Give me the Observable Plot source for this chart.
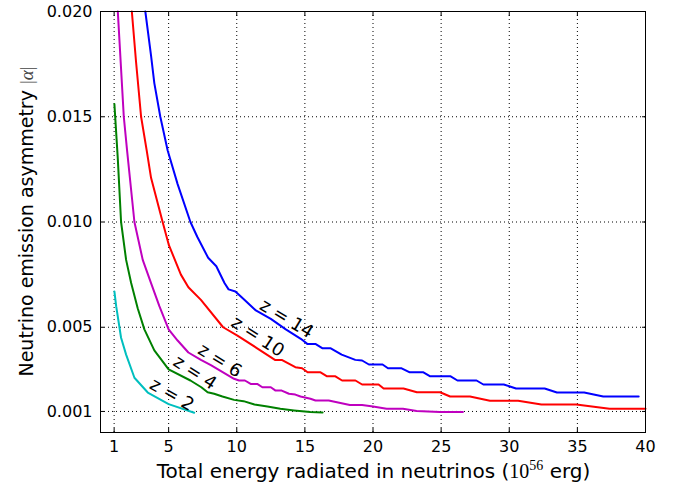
<!DOCTYPE html>
<html><head><meta charset="utf-8">
<script src="https://cdn.jsdelivr.net/npm/d3@7"></script>
<script src="https://cdn.jsdelivr.net/npm/@observablehq/plot@0.6"></script>
<style>
body{margin:0;background:#fff;}
#chart svg{display:block;}
</style></head><body><div id="chart"></div>
<script>
const xTicks = [1, 5, 10, 15, 20, 25, 30, 35, 40];
const yTicks = [0.001, 0.005, 0.010, 0.015, 0.020];
const yTickLabels = ["0.001", "0.005", "0.010", "0.015", "0.020"];
const seriesNames = ["z = 2", "z = 4", "z = 6", "z = 10", "z = 14"];

const z2 = [[1.02,0.0067],[1.15,0.0060],[1.51,0.0045],[1.88,0.0037],[2.49,0.0026],[3.47,0.0019],[5.0,0.00135],[6.88,0.00094]];
const z4 = [[1.02,0.0156],[1.27,0.0130],[1.51,0.0100],[1.88,0.0082],[2.25,0.0071],[2.73,0.0059],[3.22,0.0049],[3.95,0.0039],[5.0,0.0030],[6.6,0.00247],[7.4,0.00215],[7.86,0.00191],[8.34,0.00184],[8.95,0.00171],[9.8,0.00155],[10.5,0.00149],[11.3,0.00133],[12.25,0.00123],[13.2,0.00113],[14.2,0.00105],[15.4,0.00097],[16.3,0.00095]];
const z6 = [[1.27,0.0200],[1.71,0.0150],[1.95,0.0134],[2.49,0.0100],[3.1,0.0082],[3.71,0.0071],[4.32,0.0060],[5.0,0.0049],[5.66,0.00437],[6.45,0.0038],[7.37,0.00345],[8.1,0.0032],[9.8,0.00255],[10.17,0.00247],[10.6,0.00247],[11.02,0.00231],[11.5,0.00231],[11.88,0.00215],[12.5,0.00215],[12.85,0.00199],[13.3,0.00199],[13.83,0.00184],[14.3,0.00180],[14.68,0.00171],[15.41,0.0016],[15.78,0.00152],[16.75,0.00152],[18.3,0.00131],[19.2,0.00131],[20.0,0.00123],[21.0,0.00113],[22.2,0.00113],[23.2,0.00102],[24.9,0.00097],[26.6,0.00097]];
const z10 = [[2.30,0.0200],[2.61,0.0176],[2.98,0.0150],[3.39,0.0134],[3.71,0.0121],[4.56,0.0100],[5.02,0.0089],[5.9,0.0075],[6.45,0.0069],[7.37,0.0063],[9.0,0.0050],[10.05,0.0046],[11.5,0.0040],[12.8,0.00345],[13.3,0.00345],[14.3,0.0031],[14.8,0.00305],[15.2,0.00286],[16.15,0.00286],[16.63,0.00267],[17.24,0.00267],[17.73,0.00247],[18.71,0.00247],[19.2,0.00228],[20.41,0.00228],[20.78,0.00209],[22.24,0.00209],[23.22,0.00191],[24.92,0.00191],[25.66,0.00171],[27.12,0.00171],[28.58,0.00151],[30.65,0.00151],[32.36,0.00133],[34.92,0.00133],[37.36,0.00113],[40,0.00113]];
const z14 = [[3.29,0.0200],[3.71,0.0179],[3.95,0.0166],[4.39,0.0150],[4.93,0.0134],[5.66,0.0118],[6.6,0.0100],[7.1,0.0093],[7.9,0.0083],[8.5,0.0079],[9.1,0.0071],[9.4,0.0068],[9.9,0.0067],[10.4,0.0064],[11.4,0.0058],[12.5,0.0054],[13.6,0.0049],[14.7,0.00445],[15.2,0.0042],[15.8,0.0042],[16.3,0.0040],[16.9,0.0040],[17.7,0.0037],[18.7,0.00345],[19.2,0.00342],[19.7,0.00323],[20.7,0.00323],[21.1,0.00305],[22.1,0.00305],[22.7,0.00286],[23.7,0.00286],[24.2,0.00267],[25.7,0.00267],[26.2,0.00247],[27.6,0.00247],[28.1,0.00228],[29.6,0.00228],[30.5,0.00209],[32.6,0.00209],[33.5,0.00190],[35.5,0.00190],[36.9,0.00171],[39.5,0.00171]];

// contour-style label anchors (data coordinates)
const labelX = [5.25, 6.93, 8.76, 11.54, 13.66];
const labelY = [0.00180, 0.00285, 0.00342, 0.00456, 0.00541];

const seriesData = [z2, z4, z6, z10, z14];
const colors = ["#00bfbf", "#008000", "#bf00bf", "#ff0000", "#0000ff"];
const labelRotate = [30, 33, 32, 33, 31];

const rows = [];
seriesData.forEach((arr, i) => arr.forEach(([x, y]) => rows.push({series: seriesNames[i], x, y})));
const labels = seriesNames.map((s, i) => ({text: s, x: labelX[i], y: labelY[i], r: labelRotate[i]}));

const grid = {stroke: "black", strokeOpacity: 1, strokeWidth: 1, strokeDasharray: "1,3"};

const plot = Plot.plot({
  width: 684, height: 491,
  marginLeft: 100, marginRight: 39, marginTop: 11, marginBottom: 59,
  style: {fontFamily: "DejaVu Sans", fontSize: "16px", color: "black", background: "white"},
  x: {domain: [0, 40]},
  y: {domain: [0, 0.020]},
  color: {domain: seriesNames, range: colors},
  marks: [
    Plot.gridX(xTicks, grid),
    Plot.gridY(yTicks, grid),
    Plot.line(rows, {x: "x", y: "y", z: "series", stroke: "series", strokeWidth: 2}),
    Plot.text(labels, {x: "x", y: "y", text: "text", rotate: "r", fontSize: 18, fill: "black"}),
    Plot.axisX(xTicks, {anchor: "bottom", tickSize: -4, tickPadding: 12, label: null, tickFormat: d => String(d)}),
    Plot.axisX(xTicks, {anchor: "top", tickSize: -4, fill: "none", label: null}),
    Plot.axisY(yTicks, {anchor: "left", tickSize: -4, tickPadding: 12, label: null, tickFormat: d => yTickLabels[yTicks.indexOf(d)]}),
    Plot.axisY(yTicks, {anchor: "right", tickSize: -4, fill: "none", label: null}),
    Plot.frame({stroke: "black", strokeWidth: 1})
  ]
});
document.getElementById("chart").appendChild(plot);

const xr = plot.scale("x").range, yr = plot.scale("y").range;
const svg = d3.select(plot);
const xt = svg.append("text")
  .attr("x", (xr[0] + xr[1]) / 2 + 1).attr("y", 478)
  .attr("text-anchor", "middle").attr("font-family", "DejaVu Sans").attr("font-size", 20).attr("fill", "black");
xt.append("tspan").text("Total energy radiated in neutrinos (");
xt.append("tspan").attr("font-family", "Liberation Serif").attr("font-size", 20).text("10");
xt.append("tspan").attr("font-family", "Liberation Serif").attr("font-size", 14).attr("dy", -8).text("56");
xt.append("tspan").attr("dy", 8).text(" erg)");

const yt = svg.append("text")
  .attr("transform", `translate(33,${(yr[0] + yr[1]) / 2}) rotate(-90)`)
  .attr("text-anchor", "middle").attr("font-family", "DejaVu Sans").attr("font-size", 19).attr("fill", "black");
yt.append("tspan").text("Neutrino emission asymmetry ");
yt.append("tspan").attr("font-family", "Liberation Serif").attr("fill", "#444").text("|");
yt.append("tspan").attr("font-family", "Liberation Serif").attr("font-style", "italic").attr("fill", "#444").text("α");
yt.append("tspan").attr("font-family", "Liberation Serif").attr("fill", "#444").text("|");
</script></body></html>
